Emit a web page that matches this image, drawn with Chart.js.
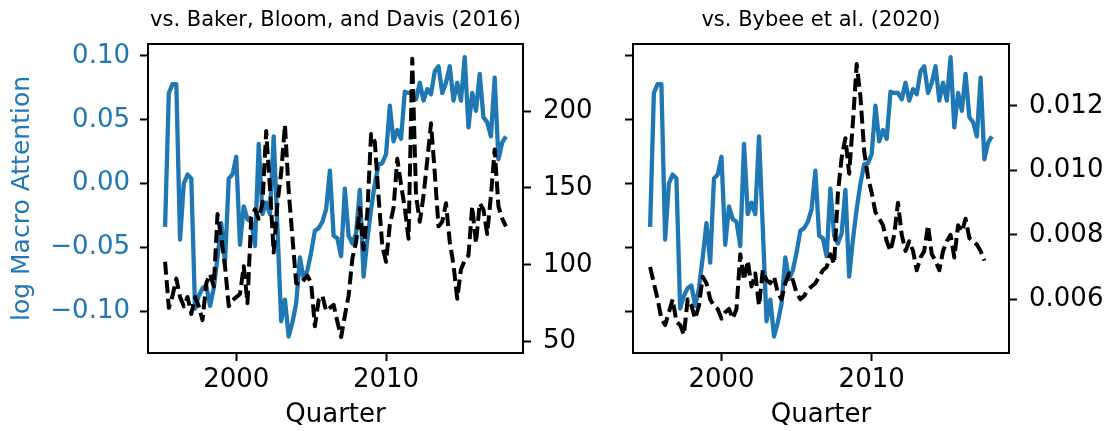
<!DOCTYPE html>
<html><head><meta charset="utf-8">
<script src="https://cdn.jsdelivr.net/npm/chart.js@4.4.1/dist/chart.umd.min.js"></script>
<style>
html,body{margin:0;padding:0;background:#fff;}
#wrap{position:relative;width:1107px;height:431px;overflow:hidden;background:#fff;}
#c1{position:absolute;left:0;top:0;}
#c2{position:absolute;left:605px;top:0;}
</style></head><body>
<div id="wrap"><canvas id="c1" width="605" height="431"></canvas><canvas id="c2" width="502" height="431"></canvas></div>
<script>
const quarters = [
"1995Q2","1995Q3","1995Q4","1996Q1","1996Q2","1996Q3","1996Q4","1997Q1","1997Q2","1997Q3","1997Q4",
"1998Q1","1998Q2","1998Q3","1998Q4","1999Q1","1999Q2","1999Q3","1999Q4","2000Q1","2000Q2","2000Q3","2000Q4",
"2001Q1","2001Q2","2001Q3","2001Q4","2002Q1","2002Q2","2002Q3","2002Q4","2003Q1","2003Q2","2003Q3","2003Q4",
"2004Q1","2004Q2","2004Q3","2004Q4","2005Q1","2005Q2","2005Q3","2005Q4","2006Q1","2006Q2","2006Q3","2006Q4",
"2007Q1","2007Q2","2007Q3","2007Q4","2008Q1","2008Q2","2008Q3","2008Q4","2009Q1","2009Q2","2009Q3","2009Q4",
"2010Q1","2010Q2","2010Q3","2010Q4","2011Q1","2011Q2","2011Q3","2011Q4","2012Q1","2012Q2","2012Q3","2012Q4",
"2013Q1","2013Q2","2013Q3","2013Q4","2014Q1","2014Q2","2014Q3","2014Q4","2015Q1","2015Q2","2015Q3","2015Q4",
"2016Q1","2016Q2","2016Q3","2016Q4","2017Q1","2017Q2","2017Q3","2017Q4","2018Q1"];

const macroAttention = [
-0.034,0.071,0.078,0.078,-0.044,0.000,0.007,0.004,-0.098,-0.088,-0.082,
-0.080,-0.096,-0.082,-0.058,-0.031,-0.062,0.004,0.007,0.021,-0.048,-0.018,-0.028,
-0.030,-0.049,0.031,-0.024,-0.015,-0.024,0.037,-0.035,-0.108,-0.091,-0.120,-0.109,
-0.094,-0.058,-0.075,-0.068,-0.054,-0.037,-0.035,-0.030,-0.020,0.010,-0.041,-0.043,
-0.057,-0.004,-0.041,-0.047,-0.039,-0.005,-0.073,-0.044,-0.020,0.000,0.015,0.016,
0.023,0.061,0.033,0.042,0.035,0.072,0.071,0.071,0.066,0.079,0.065,0.074,
0.070,0.088,0.092,0.071,0.079,0.092,0.065,0.079,0.065,0.099,0.044,0.071,
0.057,0.086,0.052,0.048,0.037,0.083,0.019,0.032,0.037];

const bakerBloomDavis = [
102,72,80,91,79,73,79,68,79,73,64,
88,94,86,133,118,99,73,77,79,81,99,75,
131,136,130,140,187,150,108,140,160,191,148,118,
88,87,90,93,88,60,77,80,70,72,74,63,
53,67,80,104,115,137,110,134,185,180,144,112,
102,126,137,169,152,137,117,234,145,128,145,168,
192,160,125,128,140,115,100,78,97,103,106,138,
114,140,136,120,145,175,138,130,125];

const bybee = [
0.0070,0.0065,0.0060,0.0054,0.0052,0.0056,0.0060,0.0053,0.0052,0.0049,0.0060,
0.0058,0.0054,0.0058,0.0067,0.0065,0.0060,0.0058,0.0057,0.0054,0.0056,0.0057,0.0054,
0.0057,0.0074,0.0066,0.0072,0.0064,0.0068,0.0058,0.0069,0.0066,0.0065,0.0067,0.0062,
0.0060,0.0065,0.0068,0.0066,0.0062,0.0060,0.0061,0.0063,0.0064,0.0065,0.0067,0.0069,
0.0070,0.0074,0.0071,0.0093,0.0104,0.0110,0.0099,0.0115,0.0133,0.0123,0.0106,0.0098,
0.0093,0.0087,0.0085,0.0083,0.0078,0.0075,0.0080,0.0090,0.0080,0.0075,0.0078,0.0075,
0.0069,0.0073,0.0075,0.0083,0.0074,0.0072,0.0069,0.0075,0.0078,0.0080,0.0073,0.0083,
0.0081,0.0085,0.0079,0.0078,0.0077,0.0075,0.0072,null,null];

const xTickValues = [2000, 2010];
const leftTickValues = [-0.10, -0.05, 0.00, 0.05, 0.10];
const bbdTickValues = [50, 100, 150, 200];
const bybeeTickValues = [0.006, 0.008, 0.010, 0.012];

const BLUE = '#1f77b4';
const FONT = "'DejaVu Sans', sans-serif";
Chart.defaults.font.family = FONT;

function qx(q){ return parseInt(q.slice(0,4),10) + (parseInt(q.slice(5),10)-1)/4; }
function pts(vals){ return quarters.map((q,i)=>({x:qx(q), y:vals[i]})); }
function setTicks(vals){ return function(s){ s.ticks = vals.map(v=>({value:v})); }; }
function fixW(w){ return function(s){ s.width = w; }; }
function fixH(h){ return function(s){ s.height = h; }; }
const minus = s => s.replace('-', '\u2212');

const X_MIN = 1994.11, X_MAX = 2019.14;
const tickGrid = {display:true, drawOnChartArea:false, drawTicks:true, tickLength:8, tickWidth:2, tickColor:'#000'};
const border = {display:true, color:'#000', width:2};

function xScales(){
  return {
    x: {type:'linear', position:'bottom', min:X_MIN, max:X_MAX,
      afterBuildTicks:setTicks(xTickValues), afterFit:fixH(78),
      grid:tickGrid, border:border,
      ticks:{color:'#000', font:{size:26}, padding:4, maxRotation:0, callback:v=>String(v)},
      title:{display:true, text:'Quarter', color:'#000', font:{size:26}, padding:{top:0,bottom:0}}},
    xTop: {type:'linear', position:'top', min:X_MIN, max:X_MAX,
      afterFit:fixH(0), ticks:{display:false},
      grid:{display:false, drawTicks:false}, border:border}
  };
}

function lineDs(vals, axis, color, dashed, order){
  return {data:pts(vals), yAxisID:axis, xAxisID:'x', borderColor:color, backgroundColor:color,
    borderWidth: dashed ? 4 : 4.3, borderDash: dashed ? [13,5.5] : [], pointRadius:0,
    tension:0, fill:false, borderJoinStyle:'round', order:order};
}

function titlePlugin(text){
  return {display:true, text:text, color:'#000', font:{size:21, weight:'normal'},
    padding:{top:8, bottom:10.8}, fullSize:false};
}

new Chart(document.getElementById('c1'), {
  type:'line',
  data:{datasets:[
    lineDs(bakerBloomDavis, 'y2', '#000', true, 1),
    lineDs(macroAttention, 'y', BLUE, false, 2)
  ]},
  options:{
    responsive:false, animation:false, devicePixelRatio:1,
    layout:{padding:0},
    plugins:{legend:{display:false}, tooltip:{enabled:false}, title:titlePlugin('vs. Baker, Bloom, and Davis (2016)')},
    scales:Object.assign(xScales(), {
      y:{position:'left', min:-0.1329, max:0.1094,
        afterBuildTicks:setTicks(leftTickValues), afterFit:fixW(148),
        grid:tickGrid, border:border,
        ticks:{color:BLUE, font:{size:26}, padding:10, callback:v=>minus(v.toFixed(2))},
        title:{display:true, text:'log Macro Attention', color:BLUE, font:{size:25}, padding:{top:7,bottom:0}}},
      y2:{position:'right', min:42.65, max:243.6,
        afterBuildTicks:setTicks(bbdTickValues), afterFit:fixW(82),
        grid:tickGrid, border:border,
        ticks:{color:'#000', font:{size:26}, padding:12, callback:v=>String(v)}}
    })
  }
});

new Chart(document.getElementById('c2'), {
  type:'line',
  data:{datasets:[
    lineDs(bybee, 'y2', '#000', true, 1),
    lineDs(macroAttention, 'y', BLUE, false, 2)
  ]},
  options:{
    responsive:false, animation:false, devicePixelRatio:1,
    layout:{padding:0},
    plugins:{legend:{display:false}, tooltip:{enabled:false}, title:titlePlugin('vs. Bybee et al. (2020)')},
    scales:Object.assign(xScales(), {
      y:{position:'left', min:-0.1329, max:0.1094,
        afterBuildTicks:setTicks(leftTickValues), afterFit:fixW(28),
        grid:tickGrid, border:border,
        ticks:{display:false}},
      y2:{position:'right', min:0.004333, max:0.013924,
        afterBuildTicks:setTicks(bybeeTickValues), afterFit:fixW(98),
        grid:tickGrid, border:border,
        ticks:{color:'#000', font:{size:26}, padding:12, callback:v=>v.toFixed(3)}}
    })
  }
});
</script>
</body></html>
